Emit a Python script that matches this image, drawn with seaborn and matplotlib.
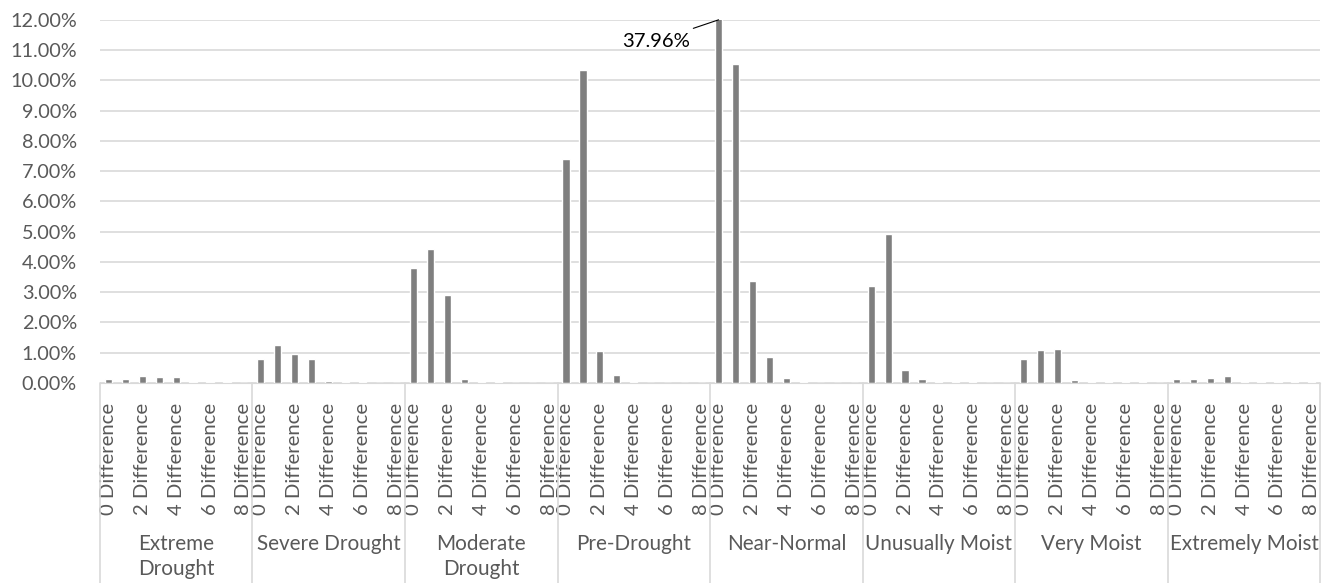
import pandas as pd
import matplotlib.pyplot as plt
import matplotlib.transforms as mtransforms
import seaborn as sns

# 분류 그룹과 차이 단계
groups = [['Extreme', 'Drought'], ['Severe Drought'], ['Moderate', 'Drought'], ['Pre-Drought'],
          ['Near-Normal'], ['Unusually Moist'], ['Very Moist'], ['Extremely Moist']]
diffs = [f'{i} Difference' for i in range(9)]

# 각 그룹별 비율 (%)
extreme_drought = [0.14, 0.14, 0.23, 0.21, 0.20, 0.05, 0.05, 0.05, 0.0]
severe_drought = [0.80, 1.24, 0.97, 0.80, 0.07, 0.05, 0.05, 0.0, 0.0]
moderate_drought = [3.81, 4.43, 2.91, 0.12, 0.03, 0.03, 0.0, 0.0, 0.0]
pre_drought = [7.40, 10.35, 1.06, 0.25, 0.05, 0.0, 0.0, 0.0, 0.0]
near_normal = [37.96, 10.54, 3.36, 0.86, 0.15, 0.05, 0.0, 0.0, 0.0]
unusually_moist = [3.22, 4.94, 0.43, 0.13, 0.04, 0.04, 0.04, 0.0, 0.0]
very_moist = [0.80, 1.08, 1.11, 0.10, 0.04, 0.03, 0.03, 0.03, 0.0]
extremely_moist = [0.12, 0.14, 0.18, 0.23, 0.03, 0.03, 0.03, 0.03, 0.03]

series = [extreme_drought, severe_drought, moderate_drought, pre_drought,
          near_normal, unusually_moist, very_moist, extremely_moist]

rows = []
for g, vals in zip(groups, series):
    name = ' '.join(g)
    for d, v in zip(diffs, vals):
        rows.append({'key': name + '|' + d, 'group': name, 'diff': d, 'value': v})
df = pd.DataFrame(rows)

sns.set_style('white')
plt.rcParams['font.family'] = ['Lato', 'DejaVu Sans']
text_color = '#595959'
line_color = '#d9d9d9'

fig = plt.figure(figsize=(13.31, 5.83), dpi=100)
renderer = fig.canvas.get_renderer()


def fit_size(s, target_px, base=14):
    # 원본 글자 폭에 맞게 글꼴 크기 조정
    t = fig.text(0, 0, s, fontsize=base)
    w = t.get_window_extent(renderer).width
    t.remove()
    return base * target_px / w


fs_y = fit_size('12.00%', 67)
fs_x = fit_size('0 Difference', 112)
fs_g = fit_size('Severe Drought', 144)
fs_a = fit_size('37.96%', 68)

ax = fig.add_axes([0.075, 0.343, 0.917, 0.623])

sns.barplot(data=df, x='key', y='value', order=list(df['key']), color='#7f7f7f',
            saturation=1, width=0.42, ax=ax)

ax.set_ylim(0, 12)
ax.set_xlim(-0.5, len(df) - 0.5)
ax.set_yticks(range(0, 13))
ax.set_yticklabels([f'{t:.2f}%' for t in range(0, 13)], color=text_color, fontsize=fs_y)
ax.yaxis.grid(True, color=line_color, linewidth=1.2)
ax.set_axisbelow(True)
for s in ['top', 'right', 'left']:
    ax.spines[s].set_visible(False)
ax.spines['bottom'].set_color(line_color)
ax.tick_params(axis='both', length=0)
ax.tick_params(axis='y', pad=16.5)

# 짝수 단계만 라벨 표시
xlabels = [d if int(d[0]) % 2 == 0 else '' for d in df['diff']]
ax.set_xticks(range(len(df)))
ax.set_xticklabels(xlabels, rotation=90, color=text_color, fontsize=fs_x)
ax.tick_params(axis='x', pad=14)
ax.set_xlabel('')
ax.set_ylabel('')

# 그룹 구분선과 그룹 라벨
trans = mtransforms.blended_transform_factory(ax.transData, ax.transAxes)
for i in range(len(groups) + 1):
    ax.plot([i * 9 - 0.5, i * 9 - 0.5], [0, -0.56], transform=trans,
            color=line_color, linewidth=1.2, clip_on=False)
for i, g in enumerate(groups):
    for j, line in enumerate(g):
        ax.text(i * 9 + 4, -0.460 - 0.069 * j, line, transform=trans, ha='center',
                va='baseline', color=text_color, fontsize=fs_g)

# 잘린 막대 값 표시
ax.annotate(f'{near_normal[0]:.2f}%', xy=(36, 12), xytext=(34.3, 11.3),
            ha='right', va='center', fontsize=fs_a, color='black',
            arrowprops=dict(arrowstyle='-', color='black', linewidth=0.8,
                            shrinkA=2, shrinkB=0),
            annotation_clip=False)

plt.savefig('out.png', dpi=100)
